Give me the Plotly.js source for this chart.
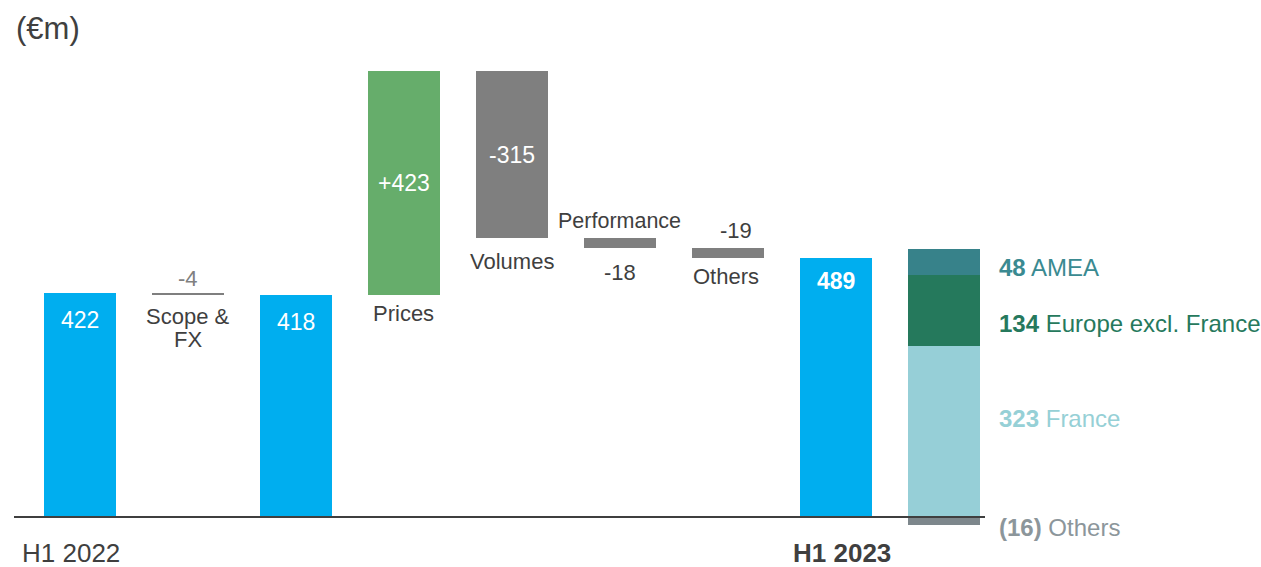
<!DOCTYPE html>
<html>
<head>
<meta charset="utf-8">
<script src="https://cdn.plot.ly/plotly-3.0.1.min.js"></script>
<style>html,body{margin:0;padding:0;background:#fff;}#chart{width:1261px;height:567px;}</style>
</head>
<body>
<div id="chart"></div>
<script>
// ---- data ----
const stepNames = ['H1 2022', 'Scope & FX', 'H1 2022 restated', 'Prices', 'Volumes', 'Performance', 'Others', 'H1 2023'];
const stepKinds = ['total', 'delta', 'total', 'delta', 'delta', 'delta', 'delta', 'total'];
const stepValues = [422, -4, 418, 423, -315, -18, -19, 489];
const regionNames = ['France', 'Europe excl. France', 'AMEA', 'Others'];
const regionValues = [323, 134, 48, -16];
const axisLabels = ['H1 2022', 'H1 2023'];
const unitLabel = '(€m)';

// ---- build waterfall geometry from data ----
const FONT = 'Liberation Sans, Arial, sans-serif';
const colTotal = '#00AEEF', colUp = '#66AD6B', colDown = '#7F7F7F';
const xs = [], bases = [], heights = [], colors = [];
let running = 0;
stepValues.forEach((v, i) => {
  xs.push(i);
  if (stepKinds[i] === 'total') {
    bases.push(0); heights.push(v); colors.push(colTotal); running = v;
  } else {
    bases.push(running); heights.push(v); colors.push(v >= 0 ? colUp : colDown); running += v;
  }
});

const BW = 0.667;
const traces = [{
  type: 'bar', x: xs, y: heights, base: bases, width: BW,
  marker: {color: colors, line: {width: 0}}, hoverinfo: 'skip', showlegend: false
}];

// breakdown stacked bar
const regionColors = ['#96CFD7', '#25795C', '#37828A', '#7D878C'];
const bx = stepValues.length;
let posBase = 0;
regionValues.forEach((v, k) => {
  let b = 0;
  if (v >= 0) { b = posBase; posBase += v; }
  traces.push({
    type: 'bar', x: [bx], y: [v], base: [b], width: BW,
    marker: {color: regionColors[k], line: {width: 0}}, hoverinfo: 'skip', showlegend: false
  });
});

const tops = heights.map((h, i) => Math.max(bases[i], bases[i] + h));
const bots = heights.map((h, i) => Math.min(bases[i], bases[i] + h));
const fmt = v => (v > 0 ? '+' : '') + v;

const NAME = 22, NUM = 23;
const ann = [];
function A(x, y, text, opt) {
  ann.push(Object.assign({x: x, y: y, xref: 'x', yref: 'y', text: text, showarrow: false,
    font: {family: FONT, size: NAME, color: '#3F3F3F'}, xanchor: 'center', yanchor: 'middle'}, opt || {}));
}
const white = {family: FONT, size: NUM, color: '#FFFFFF'};
// values inside total bars
[0, 2].forEach(i => A(i, tops[i], String(stepValues[i]), {yshift: -27, font: white}));
A(7, tops[7], '<b>' + stepValues[7] + '</b>', {yshift: -23, font: white});
// big deltas, centered
[3, 4].forEach(i => A(i, (tops[i] + bots[i]) / 2, fmt(stepValues[i]), {font: white}));
// Scope & FX
A(1, tops[1], String(stepValues[1]), {yshift: 15, font: {family: FONT, size: NAME, color: '#808080'}});
A(1, bots[1], 'Scope &amp;', {yshift: -21});
A(1, bots[1], 'FX', {yshift: -44});
// Prices, Volumes labels below
A(3, bots[3], stepNames[3], {yshift: -18});
A(4, bots[4], stepNames[4], {yshift: -23});
// Performance
A(5, tops[5], stepNames[5], {yshift: 17, font: {family: FONT, size: 21.5, color: '#3F3F3F'}});
A(5, bots[5], String(stepValues[5]), {yshift: -25});
// Others
A(6, tops[6], String(stepValues[6]), {x: 6.07, yshift: 17});
A(6, bots[6], stepNames[6], {x: 5.98, yshift: -19});

// region labels on the right (paper x)
const regionTextColors = ['#96D0D6', '#26795D', '#3A8A91', '#8C969B'];
const regionShift = [13, -13, -5, -2];
let acc = 0;
regionValues.forEach((v, k) => {
  let mid;
  if (v >= 0) { mid = acc + v / 2; acc += v; } else { mid = v; }
  const num = v < 0 ? '(' + Math.abs(v) + ')' : String(v);
  ann.push({xref: 'paper', yref: 'y', x: 1.0124, y: mid, yshift: regionShift[k], xanchor: 'left', yanchor: 'middle',
    showarrow: false, text: '<b>' + num + '</b> ' + regionNames[k],
    font: {family: FONT, size: 24, color: regionTextColors[k]}});
});

// axis labels under the baseline
ann.push({xref: 'x', yref: 'paper', x: -0.083, y: -0.034, xanchor: 'center', yanchor: 'middle', showarrow: false,
  text: axisLabels[0], font: {family: FONT, size: 26, color: '#3F3F3F'}});
ann.push({xref: 'x', yref: 'paper', x: 7.057, y: -0.034, xanchor: 'center', yanchor: 'middle', showarrow: false,
  text: '<b>' + axisLabels[1] + '</b>', font: {family: FONT, size: 26, color: '#3F3F3F'}});
// unit label
ann.push({xref: 'paper', yref: 'paper', x: 0, y: 1.067, xanchor: 'left', yanchor: 'middle', showarrow: false,
  text: unitLabel, font: {family: FONT, size: 31, color: '#404040'}});

const PXU = 0.53;
const T = 60, B = 30, H = 567;
const ymin = -(H - B - 517) / PXU;
const ymax = ymin + (H - T - B) / PXU;

const layout = {
  width: 1261, height: 567,
  margin: {l: 14, r: 276, t: T, b: B, pad: 0},
  paper_bgcolor: '#FFFFFF', plot_bgcolor: '#FFFFFF',
  barmode: 'overlay', bargap: 0,
  showlegend: false,
  xaxis: {range: [-0.611, 8.380], showticklabels: false, showgrid: false, zeroline: false, showline: false, ticks: '', fixedrange: true},
  yaxis: {range: [ymin, ymax], showticklabels: false, showgrid: false, zeroline: false, showline: false, ticks: '', fixedrange: true},
  shapes: [{type: 'line', xref: 'paper', yref: 'y', x0: 0, x1: 1, y0: 0, y1: 0, line: {color: '#3F3F3F', width: 2}}],
  annotations: ann
};

Plotly.newPlot('chart', traces, layout, {staticPlot: true, displayModeBar: false});
</script>
</body>
</html>
